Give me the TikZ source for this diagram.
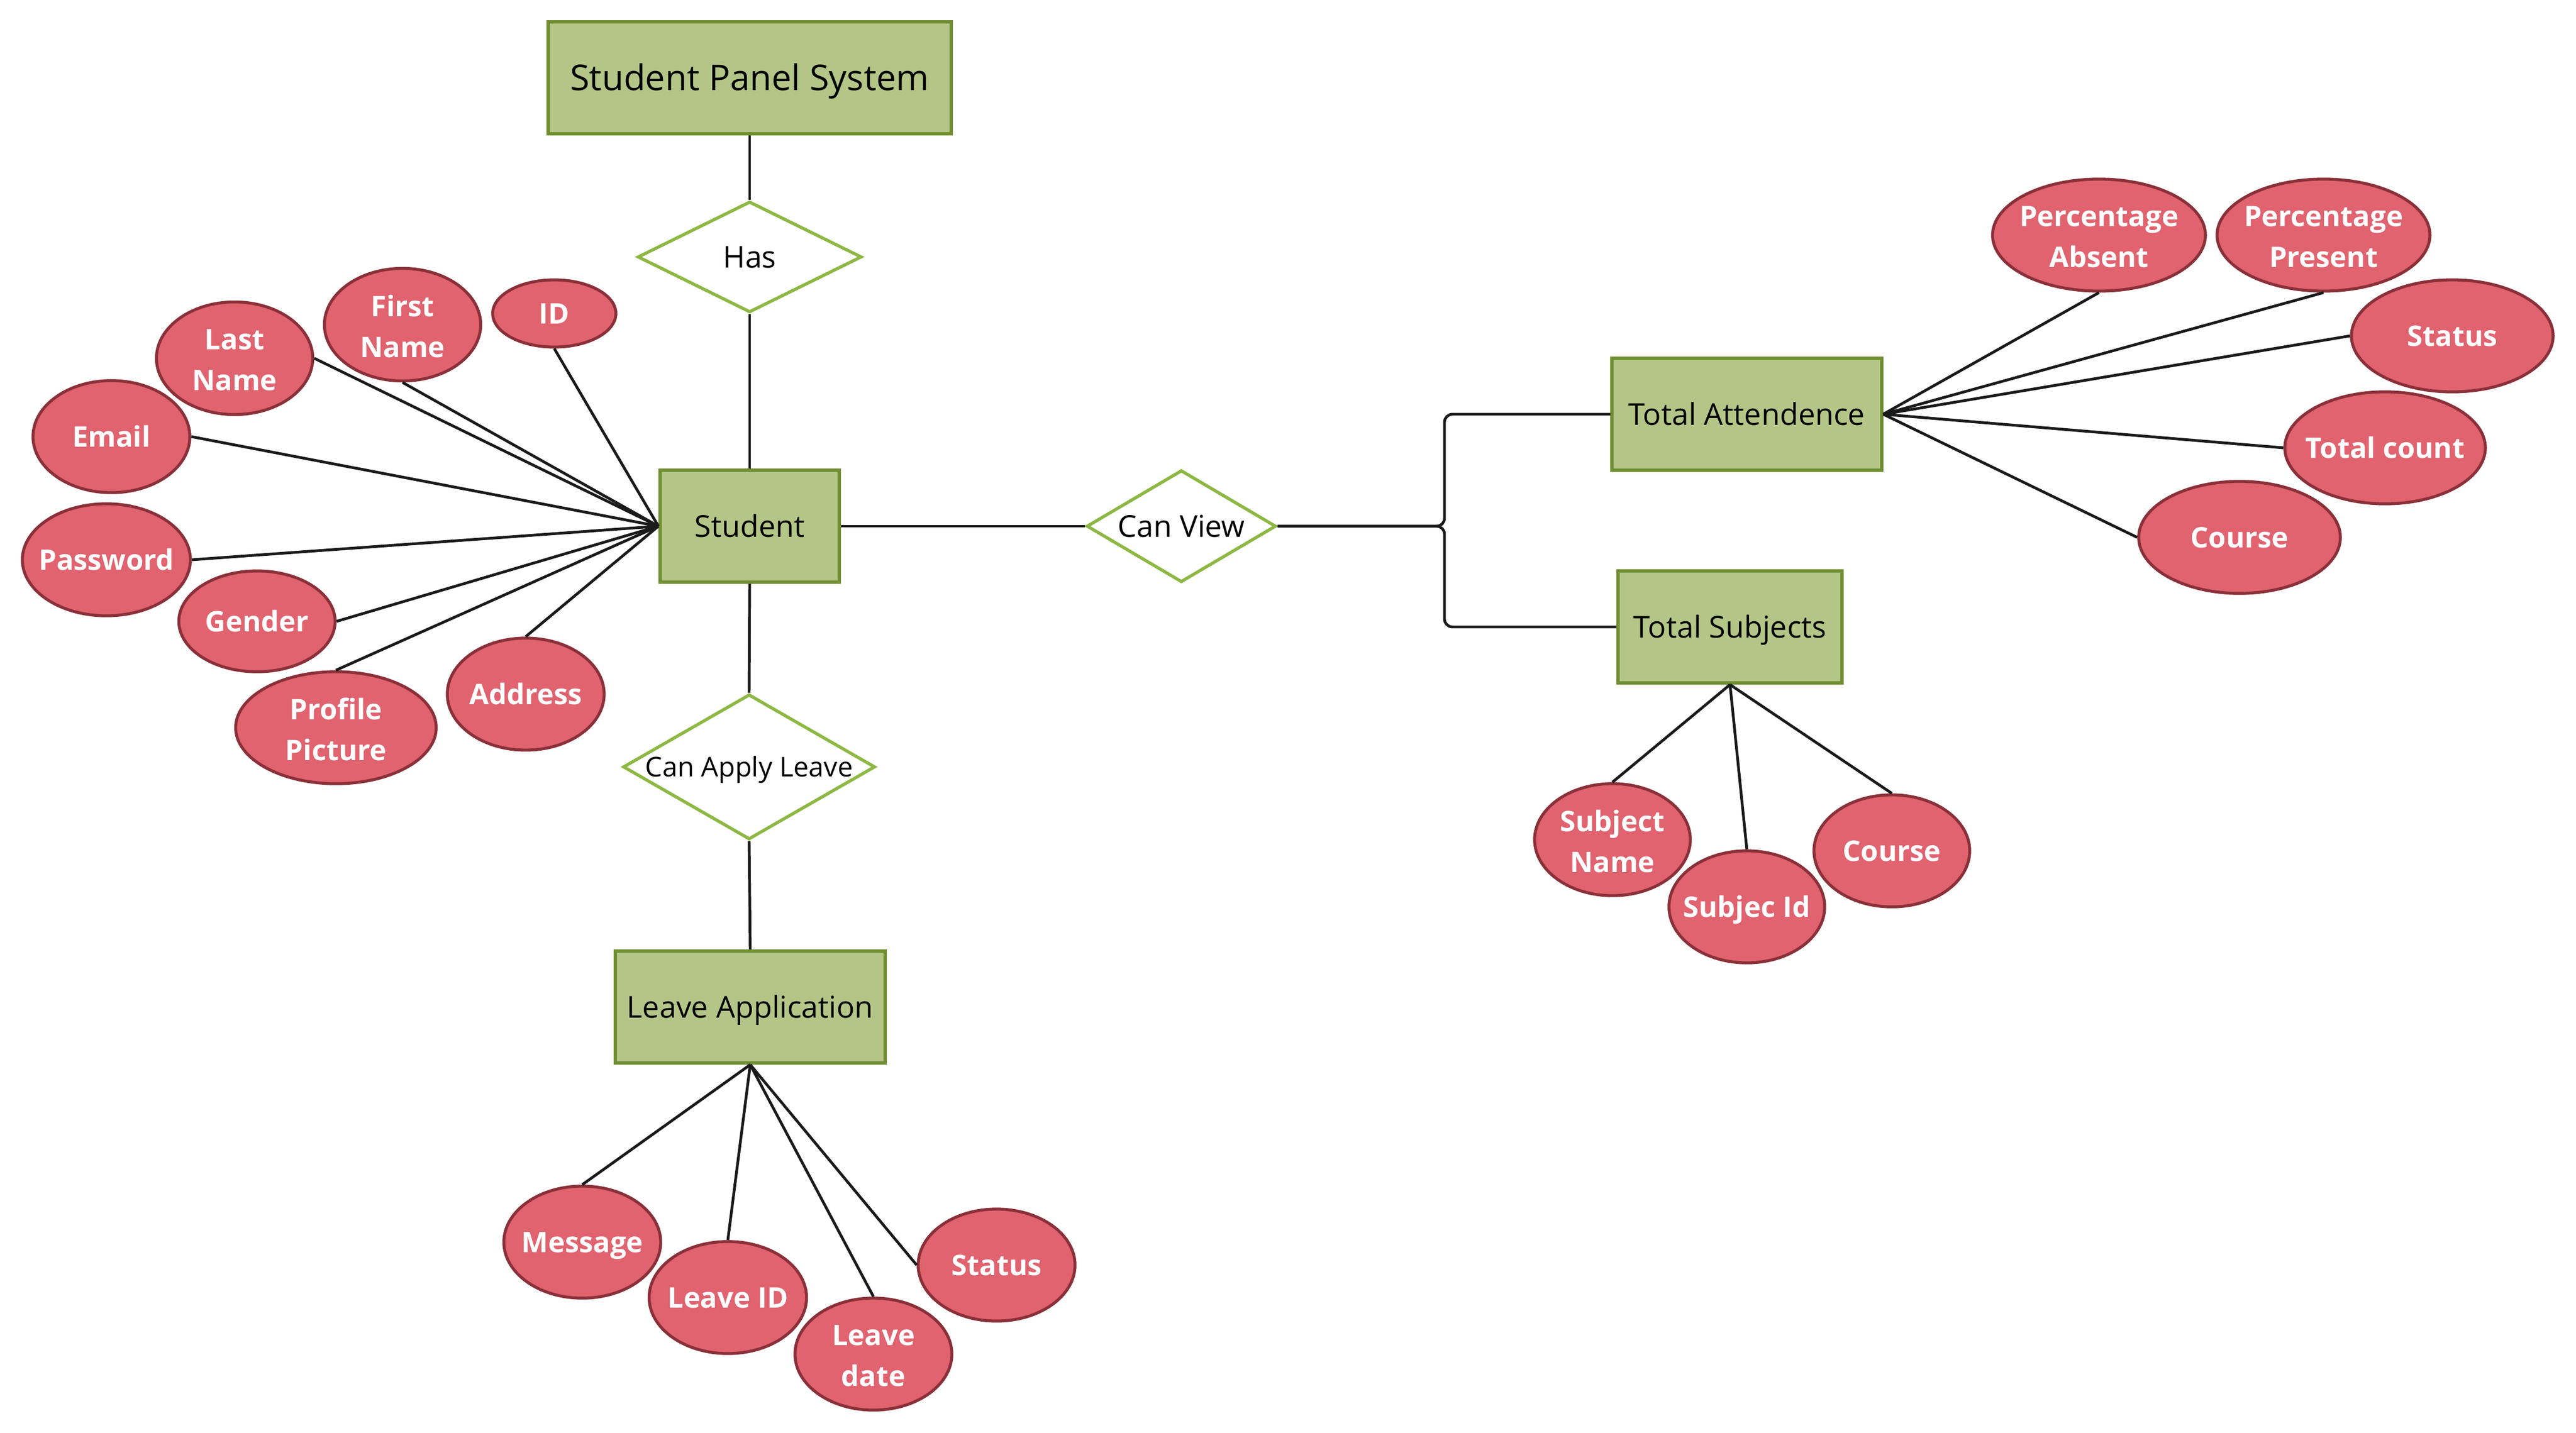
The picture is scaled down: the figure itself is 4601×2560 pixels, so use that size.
\documentclass[tikz,border=0pt]{standalone}
\usepackage{fontspec}
\setmainfont{Open Sans}
\usetikzlibrary{shapes.geometric}
\definecolor{attrfill}{HTML}{E0636F}
\definecolor{attrdraw}{HTML}{8A3039}
\definecolor{entfill}{HTML}{B3C687}
\definecolor{entdraw}{HTML}{6F8E31}
\definecolor{reldraw}{HTML}{8DB843}
\definecolor{linec}{HTML}{1A1A1A}
\tikzset{
  entity/.style={rectangle, draw=entdraw, fill=entfill, line width=1.7pt, inner sep=0pt,
    font=\fontsize{15.3}{20.8}\selectfont, text=black, text height=10.9pt, text depth=0pt},
  rel/.style={diamond, draw=reldraw, fill=white, line width=1.6pt, inner sep=0pt},
  reltext/.style={font=\fontsize{15.3}{20.8}\selectfont, text=black, inner sep=0pt,
    text height=10.9pt, text depth=0pt},
  attr/.style={ellipse, draw=attrdraw, fill=attrfill, line width=1.5pt, inner sep=0pt},
  attrtext/.style={font=\bfseries\fontsize{14.4}{20.8}\selectfont, text=white, align=center,
    inner sep=0pt, text height=10.3pt, text depth=0pt},
  attrtwo/.style={font=\bfseries\fontsize{14.4}{20.8}\selectfont, text=white, align=center,
    inner sep=0pt, yshift=-0.03cm},
  conn/.style={draw=linec, line width=1.4pt},
}
\begin{document}
\begin{tikzpicture}[x=0.01cm, y=-0.01cm]
\useasboundingbox (0,0) rectangle (4601,2560);
\coordinate (j) at (2580,940);
% entities
\node[entity, minimum width=7.2cm, minimum height=2cm, font=\fontsize{18}{22}\selectfont, text height=12.9pt] (sps) at (1339,139) {Student Panel System};
\node[entity, minimum width=3.2cm, minimum height=2cm] (student) at (1339,940) {Student};
\node[entity, minimum width=4.82cm, minimum height=2cm] (leave) at (1340,1799) {Leave Application};
\node[entity, minimum width=4.81cm, minimum height=2cm] (ta) at (3120,740) {Total Attendence};
\node[entity, minimum width=4cm, minimum height=2cm] (ts) at (3090,1120) {Total Subjects};
% relationships
\node[rel, minimum width=4cm, minimum height=1.98cm] (has) at (1339,459) {};
\node[reltext] (hast) at (has.center) {Has};
\node[rel, minimum width=4.5cm, minimum height=2.59cm] (cal) at (1338,1370) {};
\node[reltext, font=\fontsize{13.8}{18}\selectfont, text height=9.85pt] (calt) at (cal.center) {Can Apply Leave};
\node[rel, minimum width=3.38cm, minimum height=2cm] (cv) at (2110,940) {};
\node[reltext] (cvt) at (cv.center) {Can View};
% student attributes
\node[attr, minimum width=2.2cm, minimum height=1.2cm] (id) at (990,560) {};
\node[attrtext] (idt) at (id.center) {ID};
\node[attr, minimum width=2.79cm, minimum height=2.01cm] (fn) at (719,580) {};
\node[attrtwo] (fnt) at (fn.center) {First\\Name};
\node[attr, minimum width=2.79cm, minimum height=2.01cm] (ln) at (419,640) {};
\node[attrtwo] (lnt) at (ln.center) {Last\\Name};
\node[attr, minimum width=2.8cm, minimum height=2cm] (em) at (199,780) {};
\node[attrtext] (emt) at (em.center) {Email};
\node[attr, minimum width=3cm, minimum height=2cm] (pw) at (190,1000) {};
\node[attrtext] (pwt) at (pw.center) {Password};
\node[attr, minimum width=2.79cm, minimum height=1.8cm] (gd) at (459,1110) {};
\node[attrtext] (gdt) at (gd.center) {Gender};
\node[attr, minimum width=3.58cm, minimum height=2cm] (pp) at (600,1300) {};
\node[attrtwo] (ppt) at (pp.center) {Profile\\Picture};
\node[attr, minimum width=2.8cm, minimum height=2cm] (ad) at (939,1240) {};
\node[attrtext] (adt) at (ad.center) {Address};
% leave attributes
\node[attr, minimum width=2.8cm, minimum height=2cm] (msg) at (1040,2219) {};
\node[attrtext] (msgt) at (msg.center) {Message};
\node[attr, minimum width=2.81cm, minimum height=2cm] (lid) at (1300,2318) {};
\node[attrtext] (lidt) at (lid.center) {Leave ID};
\node[attr, minimum width=2.8cm, minimum height=2cm] (ldt) at (1560,2419) {};
\node[attrtwo] (ldtt) at (ldt.center) {Leave\\date};
\node[attr, minimum width=2.8cm, minimum height=2cm] (lst) at (1780,2260) {};
\node[attrtext] (lstt) at (lst.center) {Status};
% attendance attributes
\node[attr, minimum width=3.8cm, minimum height=2cm] (pa) at (3749,420) {};
\node[attrtwo] (pat) at (pa.center) {Percentage\\Absent};
\node[attr, minimum width=3.8cm, minimum height=2cm] (ppr) at (4150,420) {};
\node[attrtwo] (pprt) at (ppr.center) {Percentage\\Present};
\node[attr, minimum width=3.6cm, minimum height=2cm] (ast) at (4380,600) {};
\node[attrtext] (astt) at (ast.center) {Status};
\node[attr, minimum width=3.58cm, minimum height=2cm] (tc) at (4260,800) {};
\node[attrtext] (tct) at (tc.center) {Total count};
\node[attr, minimum width=3.6cm, minimum height=2cm] (co) at (4000,960) {};
\node[attrtext] (cot) at (co.center) {Course};
% subject attributes
\node[attr, minimum width=2.78cm, minimum height=2cm] (sn) at (2880,1500) {};
\node[attrtwo] (snt) at (sn.center) {Subject\\Name};
\node[attr, minimum width=2.78cm, minimum height=2cm] (sid) at (3120,1620) {};
\node[attrtext] (sidt) at (sid.center) {Subjec Id};
\node[attr, minimum width=2.78cm, minimum height=2cm] (co2) at (3379,1520) {};
\node[attrtext] (co2t) at (co2.center) {Course};
% connectors
\path[conn] (sps.south) -- (has.north);
\path[conn] (has.south) -- (student.north);
\path[conn] (student.south) -- (cal.north);
\path[conn] (cal.south) -- (leave.north);
\path[conn] (student.east) -- (cv.west);
\path[conn, rounded corners=4pt] (cv.east) -- (j) |- (ta.west);
\path[conn, rounded corners=4pt] (cv.east) -- (j) |- (ts.west);
\path[conn] (student.west) -- (id.south);
\path[conn] (student.west) -- (fn.south);
\path[conn] (student.west) -- (ln.east);
\path[conn] (student.west) -- (em.east);
\path[conn] (student.west) -- (pw.east);
\path[conn] (student.west) -- (gd.east);
\path[conn] (student.west) -- (pp.north);
\path[conn] (student.west) -- (ad.north);
\path[conn] (leave.south) -- (msg.north);
\path[conn] (leave.south) -- (lid.north);
\path[conn] (leave.south) -- (ldt.north);
\path[conn] (leave.south) -- (lst.west);
\path[conn] (ta.east) -- (pa.south);
\path[conn] (ta.east) -- (ppr.south);
\path[conn] (ta.east) -- (ast.west);
\path[conn] (ta.east) -- (tc.west);
\path[conn] (ta.east) -- (co.west);
\path[conn] (ts.south) -- (sn.north);
\path[conn] (ts.south) -- (sid.north);
\path[conn] (ts.south) -- (co2.north);
\end{tikzpicture}
\end{document}
